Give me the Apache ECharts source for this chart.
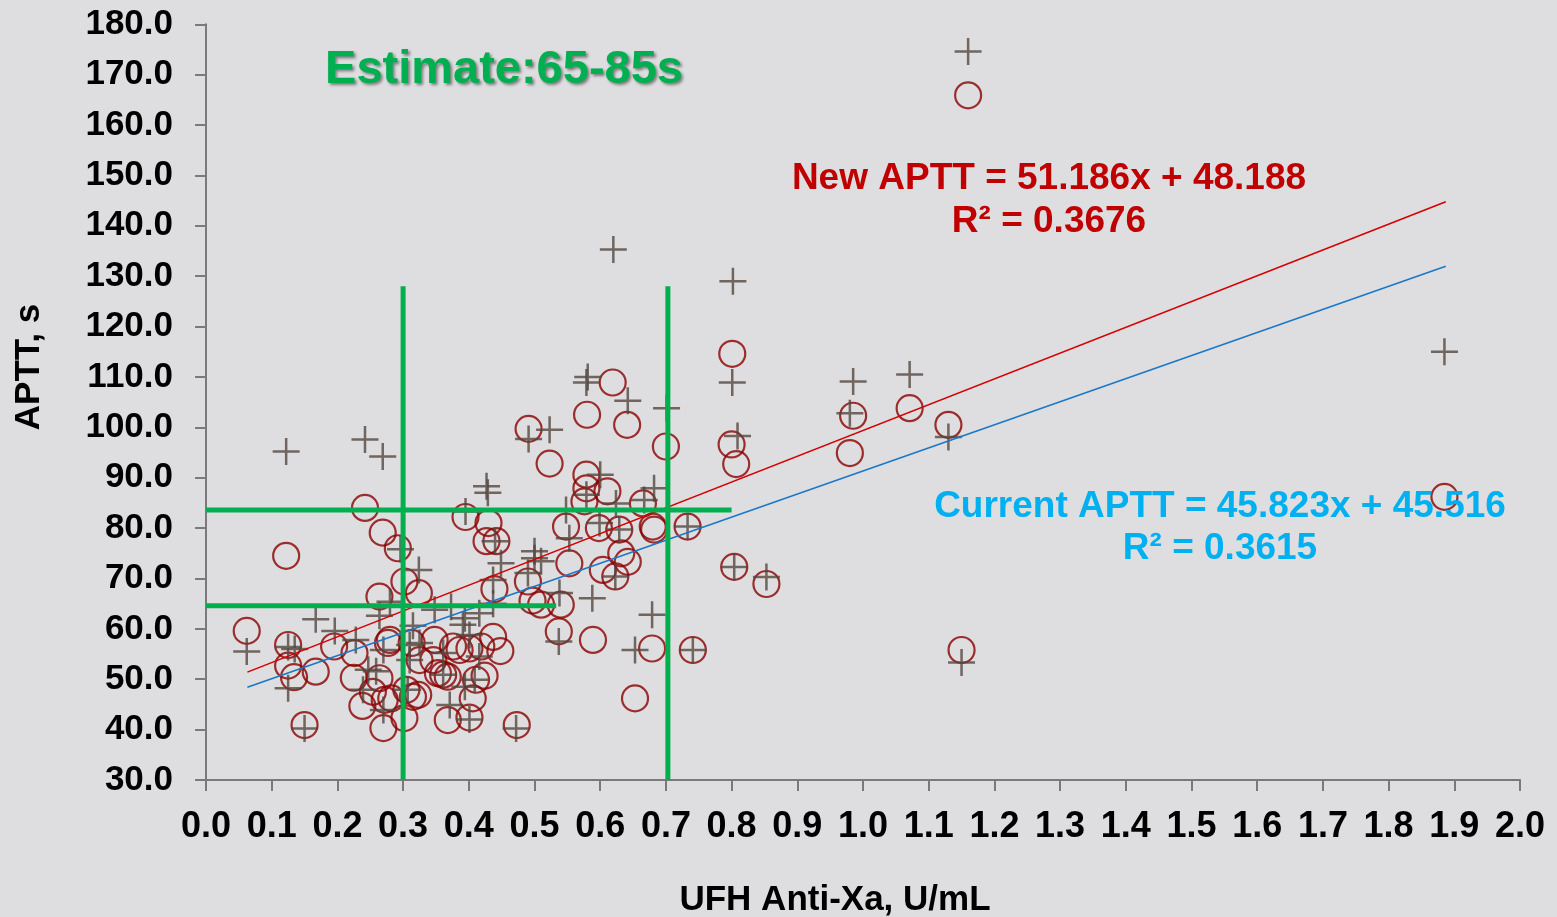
<!DOCTYPE html>
<html>
<head>
<meta charset="utf-8">
<script src="https://cdn.jsdelivr.net/npm/echarts@6/dist/echarts.min.js"></script>
<style>
  html, body { margin: 0; padding: 0; background: #dedee0; }
  #chart { width: 1557px; height: 917px; }
</style>
</head>
<body>
<div id="chart"></div>
<script>
// Paired APTT readings against UFH anti-Xa level: [anti-Xa U/mL, APTT s]
const newAptt = [
  [0.062,59.6],[0.122,74.5],[0.125,56.8],[0.125,52.7],[0.134,50.4],[0.150,40.9],[0.167,51.5],[0.195,56.5],
  [0.226,55.2],[0.225,50.3],[0.238,44.7],[0.242,84.0],[0.254,47.5],[0.264,50.2],[0.264,66.4],[0.269,79.1],
  [0.270,40.3],[0.272,45.9],[0.277,57.2],[0.282,46.2],[0.292,76.0],[0.302,69.4],[0.305,47.9],[0.302,42.3],
  [0.313,57.2],[0.325,53.8],[0.323,46.9],[0.324,67.1],[0.346,53.8],[0.348,57.8],[0.353,51.2],[0.361,50.9],
  [0.368,41.9],[0.376,56.5],[0.386,55.8],[0.395,82.2],[0.401,56.1],[0.401,42.4],[0.406,46.2],[0.411,49.9],
  [0.419,56.5],[0.424,50.7],[0.427,77.4],[0.430,81.0],[0.437,58.4],[0.439,67.9],[0.442,77.4],[0.448,55.6],
  [0.473,40.9],[0.490,69.4],[0.491,99.7],[0.497,65.6],[0.510,64.8],[0.523,92.8],[0.537,59.5],[0.540,64.8],
  [0.548,80.3],[0.553,73.0],[0.576,85.3],[0.579,90.6],[0.579,87.9],[0.580,102.5],[0.589,57.8],[0.598,80.0],
  [0.604,71.7],[0.611,87.3],[0.619,108.9],[0.623,70.4],[0.629,79.7],[0.632,75.0],[0.641,100.5],[0.642,73.3],
  [0.653,46.2],[0.665,84.9],[0.679,56.1],[0.680,80.3],[0.682,79.7],[0.700,96.2],[0.733,80.3],[0.741,55.8],
  [0.801,114.6],[0.800,96.6],[0.807,92.7],[0.804,72.3],[0.853,68.9],[0.985,102.3],[0.980,94.9],[1.071,103.8],
  [1.130,100.5],[1.150,55.8],[1.160,165.9],[1.885,86.2],[0.280,57.8],[0.368,50.5],[0.315,46.5]
];

const currentAptt = [
  [0.062,55.5],[0.122,95.2],[0.125,56.4],[0.135,56.0],[0.125,48.2],[0.150,40.2],[0.167,61.9],[0.196,59.6],
  [0.228,57.8],[0.239,47.9],[0.242,97.6],[0.247,51.9],[0.259,51.6],[0.264,62.6],[0.269,94.2],[0.270,55.8],
  [0.270,43.9],[0.280,65.4],[0.296,75.8],[0.307,47.9],[0.310,56.8],[0.310,53.8],[0.315,60.6],[0.324,71.7],
  [0.325,57.2],[0.348,63.8],[0.361,55.2],[0.361,50.9],[0.371,44.9],[0.373,64.4],[0.391,60.8],[0.394,62.1],
  [0.394,48.5],[0.395,83.3],[0.401,58.8],[0.401,42.0],[0.409,49.9],[0.416,54.5],[0.416,63.1],[0.427,88.3],
  [0.429,87.0],[0.437,65.0],[0.437,69.7],[0.440,77.4],[0.449,73.0],[0.472,40.2],[0.490,71.1],[0.491,97.7],
  [0.500,75.4],[0.500,74.0],[0.510,73.4],[0.523,99.5],[0.537,57.5],[0.538,67.1],[0.548,83.6],[0.553,78.0],
  [0.579,108.9],[0.581,110.0],[0.579,86.6],[0.588,66.1],[0.599,81.0],[0.600,90.6],[0.620,135.3],[0.623,70.4],
  [0.624,84.9],[0.629,79.7],[0.642,105.3],[0.653,55.8],[0.667,85.6],[0.679,62.8],[0.682,87.9],[0.701,103.8],
  [0.733,80.3],[0.741,55.8],[0.802,129.0],[0.801,108.9],[0.809,98.3],[0.804,72.3],[0.853,70.3],[0.985,109.1],
  [0.980,102.8],[1.071,110.5],[1.130,98.1],[1.150,53.3],[1.160,174.6],[1.885,115.0]
];

// Linear fits: [slope, intercept], with R² values
const fitNew = [51.186, 48.188];
const fitCurrent = [45.823, 45.516];
const fitR2 = [0.3676, 0.3615];
const fitRange = [0.063, 1.887];

// Therapeutic-range guide lines
const guideX = [0.3, 0.703];
const guideXTop = 128;
const guideY = [[83.6, 0.8], [64.6, 0.533]];   // [APTT, right end on x]

// Axis ranges
const xRange = [0, 2.0, 0.1];
const yRange = [30, 180, 10];

const FONT = '"Liberation Sans", Arial, sans-serif';
const PLUS = 'path://M0,12.25H27V14.75H0Z M12.25,0H14.75V27H12.25Z';

const fitLine = (f) => fitRange.map(x => [x, f[0] * x + f[1]]);

const guideSeries = [
  ...guideX.map(x => [[x, yRange[0]], [x, guideXTop]]),
  ...guideY.map(([y, xe]) => [[xRange[0], y], [xe, y]])
].map(d => ({
  type: 'line', data: d, showSymbol: false, silent: true, z: 6,
  lineStyle: { color: '#00b050', width: 5, cap: 'butt' }
}));

const chart = echarts.init(document.getElementById('chart'), null, { renderer: 'canvas' });

chart.setOption({
  backgroundColor: '#dedee0',
  animation: false,
  grid: { left: 206, right: 37, top: 24.3, bottom: 137, containLabel: false },
  xAxis: {
    type: 'value', min: xRange[0], max: xRange[1], interval: xRange[2],
    axisLine: { show: true, onZero: false, lineStyle: { color: '#7a7a7a', width: 2 } },
    axisTick: { show: true, inside: false, length: 11, lineStyle: { color: '#7a7a7a', width: 2 } },
    splitLine: { show: false },
    axisLabel: {
      margin: 29, color: '#000', fontFamily: FONT, fontWeight: 'bold', fontSize: 36,
      formatter: v => v.toFixed(1)
    }
  },
  yAxis: {
    type: 'value', min: yRange[0], max: yRange[1], interval: yRange[2],
    axisLine: { show: true, onZero: false, lineStyle: { color: '#7a7a7a', width: 2 } },
    axisTick: { show: true, inside: false, length: 11, lineStyle: { color: '#7a7a7a', width: 2 } },
    splitLine: { show: false },
    axisLabel: {
      margin: 33, color: '#000', fontFamily: FONT, fontWeight: 'bold', fontSize: 35,
      formatter: v => v.toFixed(1)
    }
  },
  series: [
    {
      type: 'scatter', name: 'New APTT', data: newAptt, symbol: 'circle', symbolSize: 26, z: 2,
      itemStyle: { color: 'rgba(0,0,0,0)', borderColor: '#8b0000', borderWidth: 2.2 },
      emphasis: { disabled: true }
    },
    {
      type: 'scatter', name: 'Current APTT', data: currentAptt, symbol: PLUS, symbolSize: 27, z: 3,
      itemStyle: { color: '#54463f' },
      emphasis: { disabled: true }
    },
    {
      type: 'line', data: fitLine(fitNew), showSymbol: false, silent: true, z: 4,
      lineStyle: { color: '#d40000', width: 1.6 }
    },
    {
      type: 'line', data: fitLine(fitCurrent), showSymbol: false, silent: true, z: 4,
      lineStyle: { color: '#1a78c8', width: 1.6 }
    },
    ...guideSeries
  ],
  graphic: [
    {
      type: 'text', x: 504, y: 70, silent: true, z: 10,
      style: {
        text: 'Estimate:65-85s', align: 'center', verticalAlign: 'middle',
        font: 'bold 47px ' + FONT, fill: '#00b050',
        textShadowColor: 'rgba(0,0,0,0.45)', textShadowBlur: 3, textShadowOffsetX: 2, textShadowOffsetY: 2
      }
    },
    {
      type: 'text', x: 1049, y: 179, silent: true, z: 10,
      style: {
        text: `New APTT = ${fitNew[0]}x + ${fitNew[1]}`, align: 'center', verticalAlign: 'middle',
        font: 'bold 37px ' + FONT, fill: '#c00000'
      }
    },
    {
      type: 'text', x: 1049, y: 222, silent: true, z: 10,
      style: {
        text: `R² = ${fitR2[0]}`, align: 'center', verticalAlign: 'middle',
        font: 'bold 37px ' + FONT, fill: '#c00000'
      }
    },
    {
      type: 'text', x: 1220, y: 507, silent: true, z: 10,
      style: {
        text: `Current APTT = ${fitCurrent[0]}x + ${fitCurrent[1]}`, align: 'center', verticalAlign: 'middle',
        font: 'bold 37px ' + FONT, fill: '#00b0f0'
      }
    },
    {
      type: 'text', x: 1220, y: 549, silent: true, z: 10,
      style: {
        text: `R² = ${fitR2[1]}`, align: 'center', verticalAlign: 'middle',
        font: 'bold 37px ' + FONT, fill: '#00b0f0'
      }
    },
    {
      type: 'text', x: 29, y: 367, rotation: Math.PI / 2, silent: true,
      style: {
        text: 'APTT, s', align: 'center', verticalAlign: 'middle',
        font: 'bold 35px ' + FONT, fill: '#000'
      }
    },
    {
      type: 'text', x: 835, y: 900, silent: true,
      style: {
        text: 'UFH Anti-Xa, U/mL', align: 'center', verticalAlign: 'middle',
        font: 'bold 35px ' + FONT, fill: '#000'
      }
    }
  ]
});
</script>
</body>
</html>
